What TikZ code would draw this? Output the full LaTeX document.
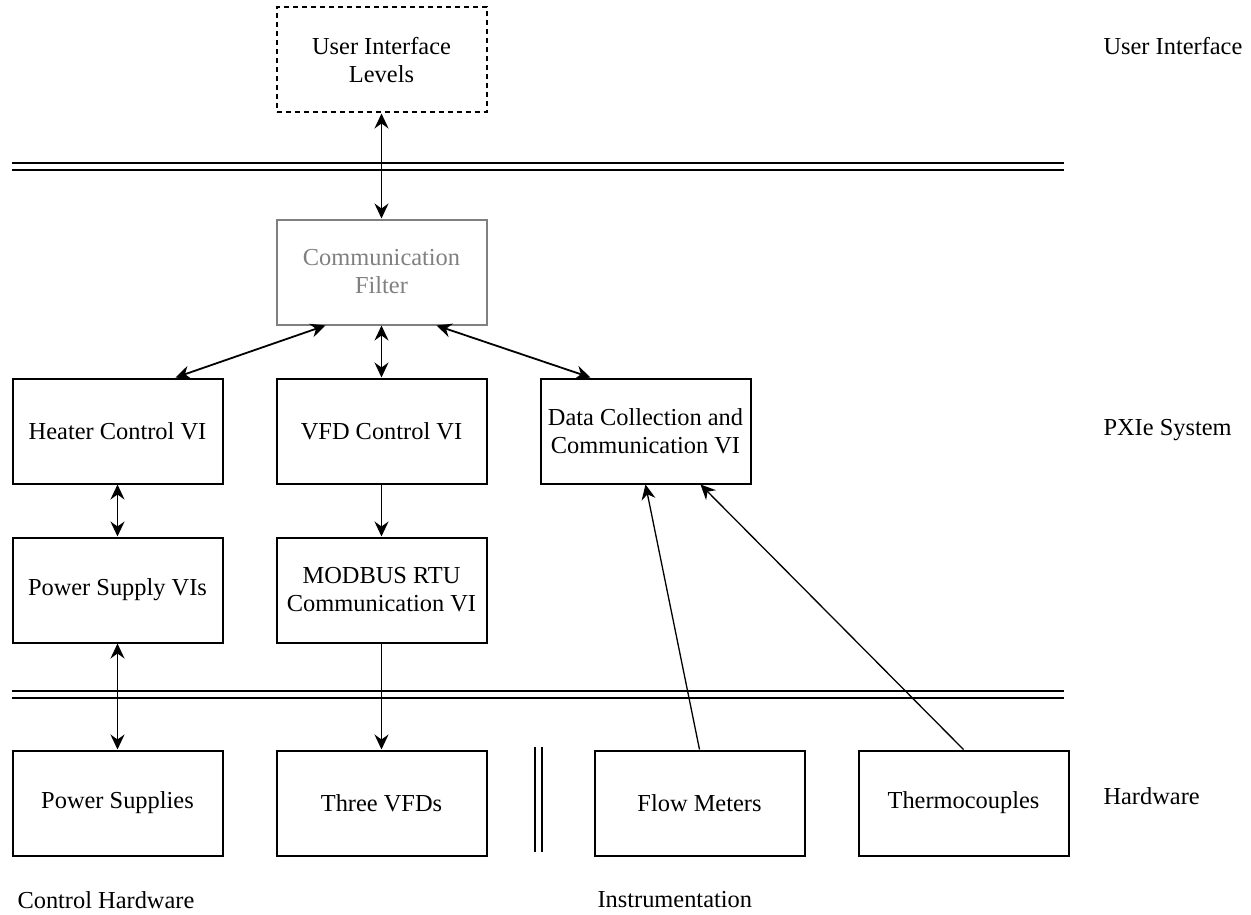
\documentclass[tikz,border=0pt]{standalone}
\usepackage{fontspec}
\setmainfont{Liberation Serif}
\usetikzlibrary{arrows.meta,positioning}

\begin{document}
\begin{tikzpicture}[
		x=1pt, y=-1pt,
		font=\rmfamily\fontsize{24.4}{28}\selectfont,
		arrow/.style={line width=1.8pt, -{Stealth[length=15pt, width=14pt, inset=5pt]}},
		both/.style={line width=1.8pt, {Stealth[length=15pt, width=14pt, inset=5pt]}-{Stealth[length=15pt, width=14pt, inset=5pt]}},
		feed/.style={line width=1.3pt, -{Stealth[length=15pt, width=14pt, inset=5pt]}},
		block/.style={draw, line width=2pt, align=center, minimum width=210pt, minimum height=105pt},
		sep/.style={draw, line width=1.6pt, double, double distance=5pt},
		layer/.style={anchor=west},
	]
		\useasboundingbox (0,0) rectangle (1251,915);

		\node (heat) [block] at (117.5,431) {Heater Control VI};
		\node (vfd) [block, right=52pt of heat] {VFD Control VI};
		\node (data) [block, right=52pt of vfd] {Data Collection and\\Communication VI};
		\node (filt) [block, draw=gray, text=gray, above=52pt of vfd] {Communication\\Filter};
		\node (ui) [block, dashed, dash pattern=on 5pt off 4pt, above=105pt of filt] {User Interface\\Levels};

		\node (psvi) [block, below=52pt of heat] {Power Supply VIs};
		\node (modbus) [block, below=52pt of vfd] {MODBUS RTU\\Communication VI};

		\node (ps) [block, below=106pt of psvi] {Power Supplies};
		\node (vfds) [block, below=106pt of modbus] {Three VFDs};
		\node (flow) [block, right=106pt of vfds] {Flow Meters};
		\node (thermo) [block, right=52pt of flow] {Thermocouples};

		% layer separators
		\draw[sep] (12,166.5) -- (1064,166.5);
		\draw[sep] (12,694.5) -- (1064,694.5);
		\draw[sep] (538.5,747) -- (538.5,852);

		% layer names
		\node (lui) [layer] at (1100,46) {User Interface};
		\node (lpxi) [layer] at (1100,430) {PXIe System};
		\node (lhw) [layer] at (1100,796) {Hardware};
		\node (lctl) [layer] at (14,900) {Control Hardware};
		\node (lins) [layer] at (594,900) {Instrumentation};

		\draw[both] (ui) -- (filt);
		\draw[both] ([xshift=-56pt]filt.south) -- ([xshift=58pt]heat.north);
		\draw[both] (filt) -- (vfd);
		\draw[both] ([xshift=55pt]filt.south) -- ([xshift=-55pt]data.north);
		\draw[both] (heat) -- (psvi);
		\draw[arrow] (vfd) -- (modbus);
		\draw[both] (psvi) -- (ps);
		\draw[arrow] (modbus) -- (vfds);
		\draw[feed] (flow.north) -- (data.south);
		\draw[feed] (thermo.north) -- ([xshift=55pt]data.south);
	\end{tikzpicture}
\end{document}
